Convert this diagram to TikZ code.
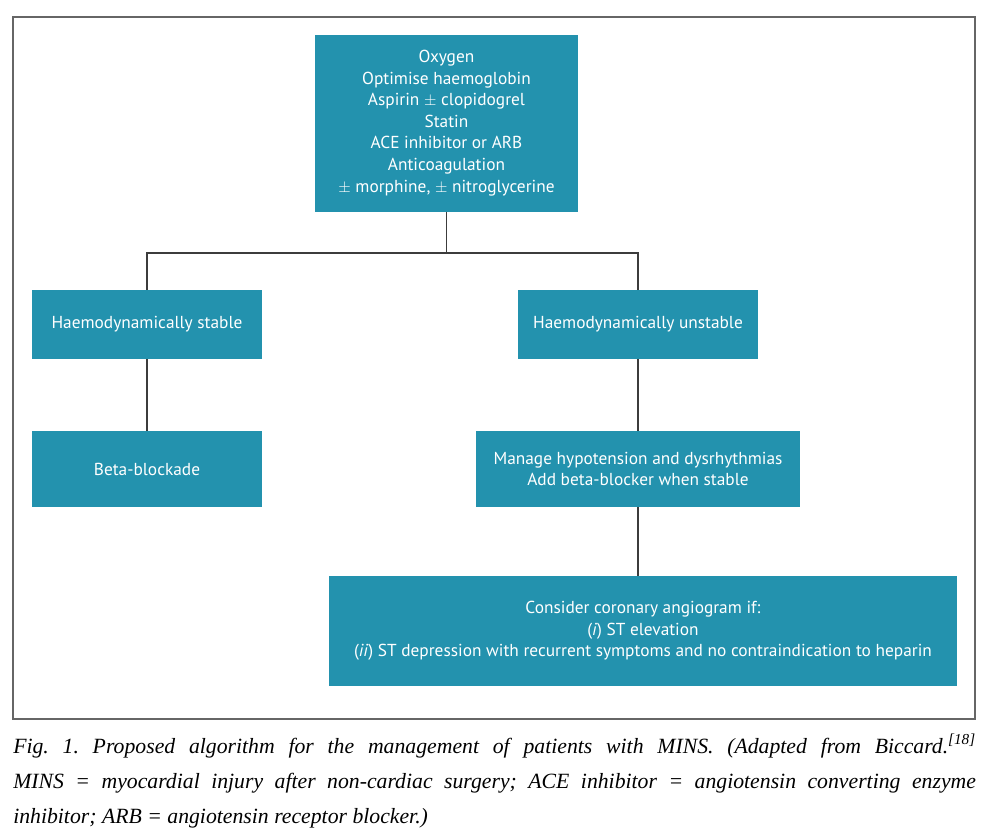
\documentclass[tikz,border=0pt]{standalone}
\usepackage{fontspec}
\newfontfamily\boxfont{PT Sans}
\newfontfamily\capfont{Liberation Serif}
\definecolor{teal}{HTML}{2392AE}
\definecolor{linegray}{HTML}{3C3C3C}
\newcommand{\pmsign}{\ensuremath{\pm}}
\begin{document}
\begin{tikzpicture}[x=0.75pt,y=-0.75pt,
	box/.style={rectangle,fill=teal,text=white,align=center,inner sep=0pt,font=\boxfont\fontsize{13}{16.2}\selectfont},
	conn/.style={draw=linegray,line width=1.1pt}]
		\useasboundingbox (0,0) rectangle (1000,829);
		\draw[gray!80!black,line width=0.8pt] (13,17) rectangle (975,719);
		\node[box,minimum width=197.25pt,minimum height=132.75pt](oxy) at (446.5,123){Oxygen\\Optimise haemoglobin\\Aspirin \pmsign{} clopidogrel\\Statin\\ACE inhibitor or ARB\\Anticoagulation\\\pmsign{} morphine, \pmsign{} nitroglycerine};
		\node[box,minimum width=172.5pt,minimum height=51.75pt](st) at (147,324.5){Haemodynamically stable};
		\node[box,minimum width=180pt,minimum height=51.75pt](un) at (638,324.5){Haemodynamically unstable};
		\node[box,minimum width=172.5pt,minimum height=57pt](bb) at (147,469){Beta-blockade};
		\node[box,minimum width=243pt,minimum height=57pt](mh) at (638,469){Manage hypotension and dysrhythmias\\Add beta-blocker when stable};
		\node[box,minimum width=471pt,minimum height=82.5pt](cor) at (643,631){Consider coronary angiogram if:\\(\textit{i}) ST elevation\\(\textit{ii}) ST depression with recurrent symptoms and no contraindication to heparin};
		\coordinate (split) at (446.5,253);
		\draw[conn] (oxy)--(split);
		\draw[conn] (st.north) |- (split) -| (un.north);
		\draw[conn] (st)--(bb);
		\draw[conn] (un)--(mh);
		\draw[conn] (mh.south)--(mh.south |- cor.north);
		\node[anchor=north west,inner sep=0pt,text width=722pt,align=justify,font=\capfont\itshape\fontsize{16.3}{26.3}\selectfont\frenchspacing](cap) at (13,734){Fig. 1. Proposed algorithm for the management of patients with MINS. (Adapted from Biccard.\textsuperscript{[18]}\linebreak MINS = myocardial injury after non-cardiac surgery; ACE inhibitor = angiotensin converting enzyme\linebreak inhibitor; ARB = angiotensin receptor blocker.)};
	\end{tikzpicture}
\end{document}
